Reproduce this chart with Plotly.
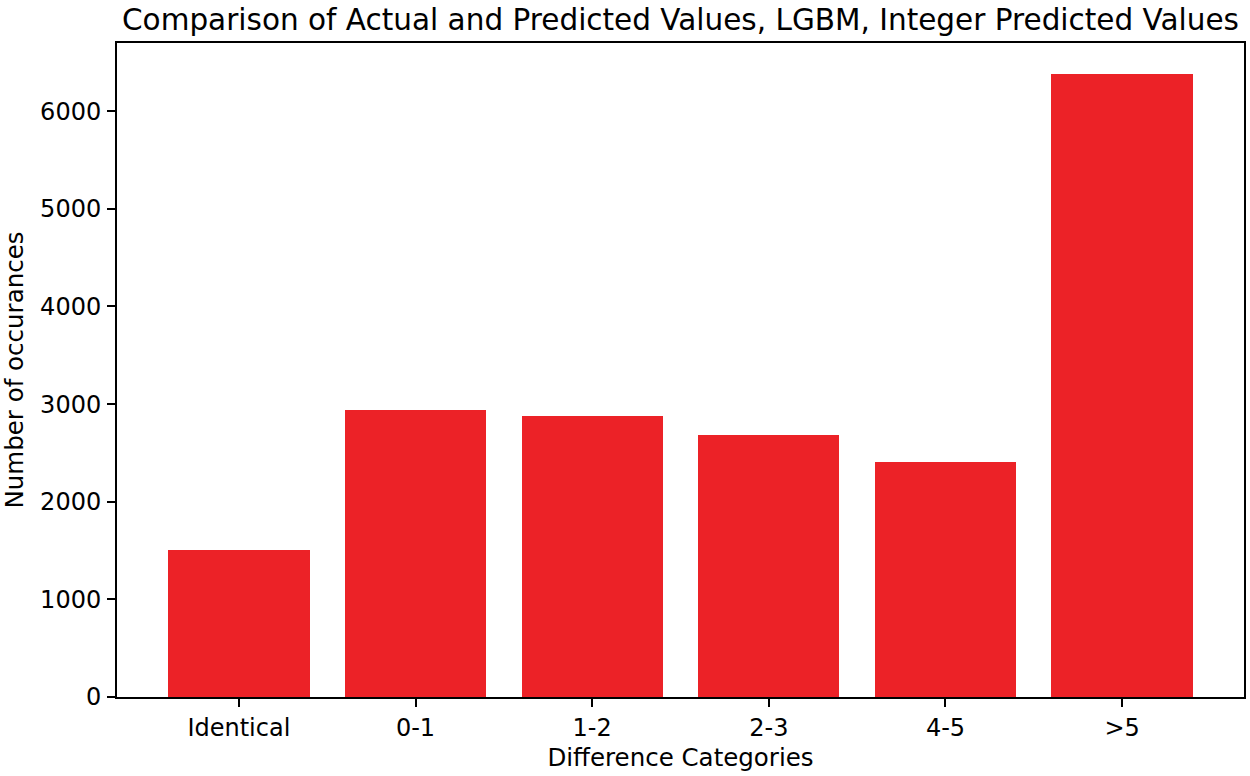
import plotly.graph_objects as go

categories = ["Identical", "0-1", "1-2", "2-3", "4-5", ">5"]
counts = [1503, 2935, 2883, 2686, 2410, 6380]
y_ticks = [0, 1000, 2000, 3000, 4000, 5000, 6000]

FONT = "DejaVu Sans"
BAR_COLOR = "#ec2227"

fig = go.Figure(
    go.Bar(
        x=list(range(len(categories))),
        y=counts,
        width=0.8,
        marker=dict(color=BAR_COLOR, line=dict(width=0)),
    )
)

axis_common = dict(
    showline=True,
    linecolor="black",
    linewidth=2,
    mirror=True,
    ticks="outside",
    ticklen=8,
    tickwidth=2,
    tickcolor="black",
    showgrid=False,
    zeroline=False,
    automargin=False,
    tickfont=dict(family=FONT, size=24, color="black"),
)

fig.update_layout(
    template="none",
    width=1250,
    height=776,
    margin=dict(l=117, r=6, t=43, b=79, autoexpand=False),
    paper_bgcolor="white",
    plot_bgcolor="white",
    showlegend=False,
    font=dict(family=FONT, color="black"),
    bargap=0,
    title=dict(
        text="Comparison of Actual and Predicted Values, LGBM, Integer Predicted Values",
        font=dict(family=FONT, size=29.5, color="black"),
        x=0.5,
        xref="paper",
        xanchor="center",
        y=1,
        yref="paper",
        yanchor="bottom",
        pad=dict(b=13),
        automargin=False,
    ),
    xaxis=dict(
        **axis_common,
        range=[-0.69, 5.69],
        tickmode="array",
        tickvals=list(range(len(categories))),
        ticktext=categories,
        ticklabelstandoff=0,
        title=dict(text="Difference Categories", font=dict(family=FONT, size=24.5, color="black"), standoff=8),
    ),
    yaxis=dict(
        **axis_common,
        range=[0, 6699],
        tickmode="array",
        tickvals=y_ticks,
        ticktext=[str(v) for v in y_ticks],
        ticklabelstandoff=1,
        title=dict(text="Number of occurances", font=dict(family=FONT, size=24.5, color="black"), standoff=14),
    ),
)

fig.write_html(
    "out.html",
    config={"displayModeBar": False},
    post_script="document.body.style.margin='0';document.body.style.overflow='hidden';",
)
